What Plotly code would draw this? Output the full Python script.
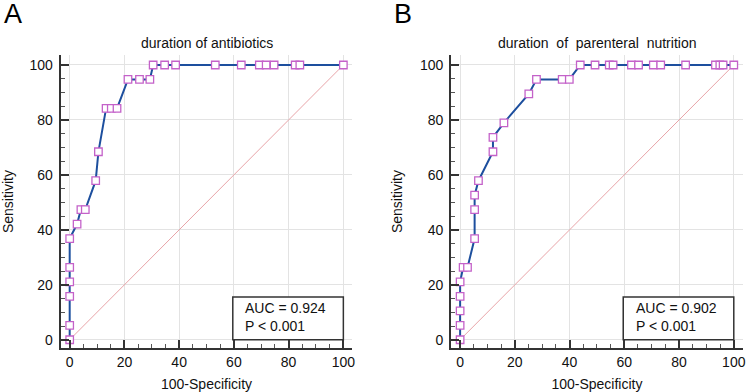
import plotly.graph_objects as go

# Panel A: duration of antibiotics
a_fpr = [0, 0, 0, 0, 0, 0, 2.7, 4.1, 5.7, 9.5, 10.5, 13.3, 15.2, 17.3, 21.3, 25.5, 29.3,
         30.5, 34.7, 38.7, 53.2, 62.7, 69.3, 71.8, 74.7, 82.4, 84.1, 100]
a_tpr = [0, 5.26, 15.79, 21.05, 26.32, 36.84, 42.11, 47.37, 47.37, 57.89, 68.42, 84.21, 84.21, 84.21,
         94.74, 94.74, 94.74, 100, 100, 100, 100, 100, 100, 100, 100, 100, 100, 100]

# Panel B: duration of parenteral nutrition
b_fpr = [0, 0, 0, 0, 0, 1.1, 2.7, 5.3, 5.3, 5.3, 6.7, 12.0, 12.0, 16.0, 25.1, 27.9, 37.3, 39.9,
         43.9, 49.3, 54.5, 55.9, 62.6, 65.2, 70.6, 73.3, 82.4, 93.3, 94.9, 96.1, 100]
b_tpr = [0, 5.26, 10.53, 15.79, 21.05, 26.32, 26.32, 36.84, 47.37, 52.63, 57.89, 68.42, 73.68, 78.95,
         89.47, 94.74, 94.74, 94.74, 100, 100, 100, 100, 100, 100, 100, 100, 100, 100, 100, 100, 100]

titles = ["duration of antibiotics", "duration \u00a0of \u00a0parenteral \u00a0nutrition"]
auc_text = ["AUC = 0.924", "AUC = 0.902"]
p_text = ["P &lt; 0.001", "P &lt; 0.001"]
panel_labels = ["A", "B"]
ticks = [0, 20, 40, 60, 80, 100]
diag = [0, 100]

FONT = "Liberation Sans, Arial, sans-serif"
LINE_COL = "#1d4f9e"
MARK_COL = "#c462c9"
AXIS_COL = "#333333"
GRID_COL = "#e3e3e3"

fig = go.Figure()

xdoms = [[60.9 / 749, 353.8 / 749], [452.9 / 749, 745.8 / 749]]
ydom = [(392 - 348) / 392, (392 - 55.1) / 392]
title_x = [(70 + 345) / 2 / 749, (462 + 736.7) / 2 / 749]
label_x = [2 / 749, 394 / 749]

for i, (fx, ty) in enumerate([(a_fpr, a_tpr), (b_fpr, b_tpr)]):
    xa = "x" if i == 0 else "x2"
    ya = "y" if i == 0 else "y2"
    fig.add_trace(go.Scatter(x=diag, y=diag, mode="lines", xaxis=xa, yaxis=ya,
                             line=dict(color="#e8a4a8", width=1), hoverinfo="skip", showlegend=False))
    fig.add_trace(go.Scatter(x=fx, y=ty, mode="lines+markers", xaxis=xa, yaxis=ya,
                             line=dict(color=LINE_COL, width=2),
                             marker=dict(symbol="square", size=7.5, color="white",
                                         line=dict(color=MARK_COL, width=1.3)),
                             showlegend=False))
    axis_common = dict(showline=True, linecolor=AXIS_COL, linewidth=2,
                       ticks="inside", ticklen=8, tickwidth=1.5, tickcolor=AXIS_COL,
                       tickvals=ticks, showgrid=True, gridcolor=GRID_COL, gridwidth=1,
                       zeroline=False, tickfont=dict(family=FONT, size=14, color="#111"),
                       minor=dict(ticks="inside", ticklen=4, tickwidth=1, tickcolor="#555",
                                  dtick=5, tick0=0, showgrid=False))
    xkey = "xaxis" if i == 0 else "xaxis2"
    ykey = "yaxis" if i == 0 else "yaxis2"
    fig.update_layout(**{
        xkey: dict(axis_common, range=[-3.3, 103.3], domain=xdoms[i], anchor=ya,
                   title=dict(text="100-Specificity", font=dict(family=FONT, size=14, color="#111"),
                              standoff=10)),
        ykey: dict(axis_common, range=[-3.0, 103.6], domain=ydom, anchor=xa, ticklabelstandoff=3,
                   title=dict(text="Sensitivity", font=dict(family=FONT, size=14, color="#111"),
                              standoff=14)),
    })
    # AUC box
    fig.add_shape(type="rect", xref=xa, yref=ya, x0=59.6, x1=100, y0=0, y1=15.6,
                  line=dict(color=AXIS_COL, width=1.5), fillcolor="white", layer="above")
    fig.add_annotation(xref=xa, yref=ya, x=63.4, y=11.4, text=auc_text[i], showarrow=False,
                       xanchor="left", yanchor="middle", font=dict(family=FONT, size=14, color="#111"))
    fig.add_annotation(xref=xa, yref=ya, x=63.4, y=5.0, text=p_text[i], showarrow=False,
                       xanchor="left", yanchor="middle", font=dict(family=FONT, size=14, color="#111"))
    # title
    fig.add_annotation(xref="paper", yref="paper", x=title_x[i],
                       y=(392 - 43) / 392, text=titles[i], showarrow=False,
                       xanchor="center", yanchor="middle", font=dict(family=FONT, size=14, color="#111"))
    # panel label
    fig.add_annotation(xref="paper", yref="paper", x=label_x[i], y=(392 - 14) / 392,
                       text=panel_labels[i], showarrow=False, xanchor="left", yanchor="middle",
                       font=dict(family=FONT, size=27, color="#000"))

fig.update_layout(width=749, height=392, margin=dict(l=0, r=0, t=0, b=0),
                  paper_bgcolor="white", plot_bgcolor="white", showlegend=False)

fig.write_html("out.html", config={"displayModeBar": False},
               post_script="document.body.style.margin='0';")
